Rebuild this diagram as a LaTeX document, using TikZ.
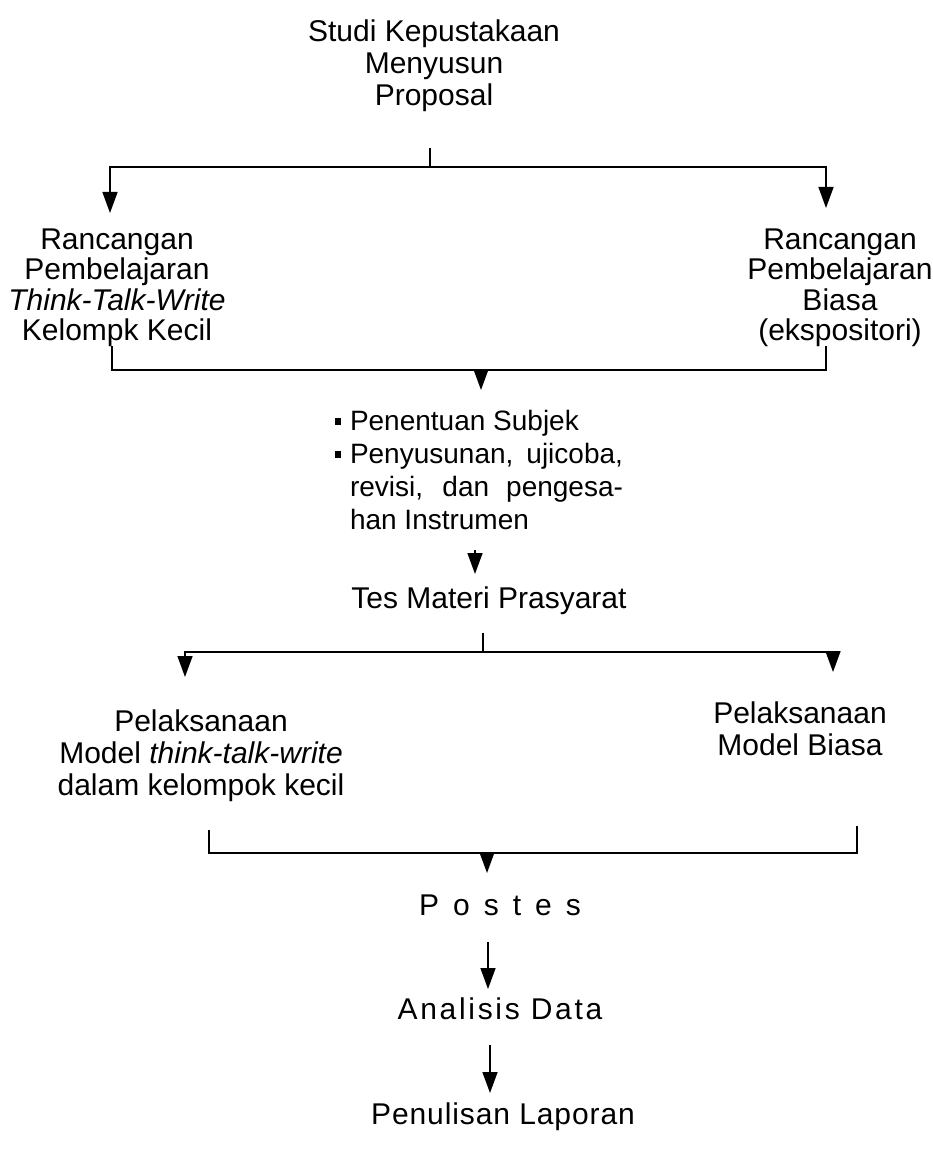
\documentclass[tikz,border=0pt]{standalone}
\usepackage{fontspec}
\setmainfont{Liberation Sans}
\newfontfamily\spacedA[LetterSpace=9]{Liberation Sans}
\newfontfamily\spacedB[LetterSpace=3]{Liberation Sans}
\usetikzlibrary{arrows.meta}
\newcommand{\sqbullet}{\makebox[15pt][l]{\rule[6pt]{6pt}{7pt}}}
\tikzset{
  lbl/.style={align=center, inner sep=0pt, font=\fontsize{30}{32}\selectfont},
  lbltight/.style={lbl, font=\fontsize{30}{30.5}\selectfont},
  link/.style={line width=1.5pt},
  arr/.style={link, -{Triangle[width=15pt,length=21pt]}},
}
\begin{document}
\begin{tikzpicture}[x=1pt, y=-1pt]
\useasboundingbox (0,0) rectangle (933,1174);

% texts
\node[lbl] (top) at (434,66) {Studi Kepustakaan\\Menyusun\\Proposal};
\node[lbltight] (rl) at (117,288) {Rancangan\\Pembelajaran\\\textit{Think-Talk-Write}\\Kelompk Kecil};
\node[lbltight] (rr) at (840,288) {Rancangan\\Pembelajaran\\Biasa\\(ekspositori)};
\node[lbl, align=left, font=\fontsize{28}{33}\selectfont] (prep) at (479,470)
  {\sqbullet Penentuan Subjek\\
   \sqbullet\makebox[273pt][s]{Penyusunan, ujicoba,}\\
   \hspace*{15pt}\makebox[273pt][s]{revisi, dan pengesa-}\\
   \hspace*{15pt}han Instrumen};
\node[lbl] (tes) at (489,601) {Tes Materi Prasyarat};
\node[lbl] (pl) at (201,756) {Pelaksanaan\\Model \textit{think-talk-write}\\dalam kelompok kecil};
\node[lbl] (pr) at (800,729) {Pelaksanaan\\Model Biasa};
\node[lbl] (pos) at (500,905) {{\spaceskip=14pt P o s t e s}};
\node[lbl] (ana) at (500,1009) {\spacedA Analisis Data};
\node[lbl] (lap) at (503,1117) {\spacedB Penulisan Laporan};

% junction coordinates
\coordinate (t0) at (430,148);
\coordinate (j1) at (430,167);
\coordinate (aL) at (110,213);
\coordinate (aR) at (826,208);
\coordinate (b1a) at (112,346);
\coordinate (b1b) at (112,370);
\coordinate (b1c) at (826,370);
\coordinate (b1d) at (826,346);
\coordinate (b1m) at (481,370);
\coordinate (b1t) at (481,390);
\coordinate (p0) at (475,550);
\coordinate (p1) at (475,574);
\coordinate (t2) at (483,633);
\coordinate (j2) at (483,652);
\coordinate (cL) at (185,677);
\coordinate (cR) at (833,672);
\coordinate (b2a) at (209,830);
\coordinate (b2b) at (209,853);
\coordinate (b2c) at (857,853);
\coordinate (b2d) at (857,826);
\coordinate (b2m) at (487,853);
\coordinate (b2t) at (487,873);
\coordinate (q0) at (488,942);
\coordinate (q1) at (488,989);
\coordinate (r0) at (490,1045);
\coordinate (r1) at (490,1093);

% connectors
\draw[link] (t0) -- (j1);
\draw[arr] (j1) -| (aL);
\draw[arr] (j1) -| (aR);
\draw[link] (b1a) -- (b1b) -- (b1c) -- (b1d);
\draw[arr] (b1m) -- (b1t);
\draw[arr] (p0) -- (p1);
\draw[link] (t2) -- (j2);
\draw[arr] (j2) -| (cL);
\draw[arr] (j2) -| (cR);
\draw[link] (b2a) -- (b2b) -- (b2c) -- (b2d);
\draw[arr] (b2m) -- (b2t);
\draw[arr] (q0) -- (q1);
\draw[arr] (r0) -- (r1);
\end{tikzpicture}
\end{document}
